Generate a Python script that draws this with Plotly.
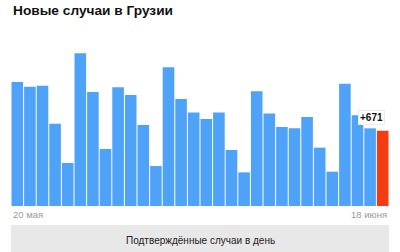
import plotly.graph_objects as go

days = list(range(30))
values = [1105, 1063, 1072, 733, 383, 1361, 1016, 508, 1058, 989,
          722, 356, 1236, 953, 832, 775, 832, 499, 300, 1022,
          823, 704, 692, 793, 520, 306, 1090, 808, 692, 671]
first_label = "20 мая"
last_label = "18 июня"
title = "Новые случаи в Грузии"
button_text = "Подтверждённые случаи в день"
last_text = "+671"

colors = ["#4ea3f8"] * (len(values) - 1) + ["#f43c12"]

fig = go.Figure(go.Bar(x=days, y=values, marker=dict(color=colors, line=dict(width=0)),
                       hoverinfo="skip"))

W, H = 400, 252
ml, mr, mt, mb = 11, 11, 30, 46
ph = H - mt - mb

def py(y):
    return (H - mb - y) / ph

fig.update_layout(
    width=W, height=H,
    margin=dict(l=ml, r=mr, t=mt, b=mb, pad=0),
    paper_bgcolor="white", plot_bgcolor="white",
    bargap=0.08, showlegend=False,
    font=dict(family="Liberation Sans, Arial, sans-serif"),
    xaxis=dict(range=[-0.5, 29.5], showgrid=False, zeroline=False, showticklabels=False,
               showline=False, fixedrange=True),
    yaxis=dict(range=[0, 1568], showgrid=False, zeroline=False, showticklabels=False,
               showline=False, fixedrange=True),
)

fig.add_shape(type="rect", xref="paper", yref="paper", x0=0, x1=1,
              y0=py(252), y1=py(225), fillcolor="#e8e8e8", line=dict(width=0), layer="below")

annotations = [
    dict(text="<b>" + title + "</b>", xref="paper", yref="paper", x=0, y=py(10.5),
         xanchor="left", yanchor="middle", showarrow=False,
         font=dict(size=13.7, color="#111111")),
    dict(text=first_label, xref="paper", yref="paper", x=0, y=py(215),
         xanchor="left", yanchor="middle", showarrow=False,
         font=dict(size=9.5, color="#9a9a9a")),
    dict(text=last_label, xref="paper", yref="paper", x=1, y=py(215),
         xanchor="right", yanchor="middle", showarrow=False,
         font=dict(size=9.5, color="#9a9a9a")),
    dict(text=button_text, xref="paper", yref="paper", x=0.5, y=py(240.5),
         xanchor="center", yanchor="middle", showarrow=False,
         font=dict(size=10, color="#222222")),
    dict(text="<b>" + last_text + "</b>", x=days[-1], y=values[-1], xref="x", yref="y",
         xanchor="center", yanchor="middle", xshift=-11, yshift=13, showarrow=False,
         bgcolor="white", borderpad=1, borderwidth=1, bordercolor="#ececec",
         font=dict(size=10, color="#111111")),
]
fig.update_layout(annotations=annotations)

fig.write_html("out.html")
